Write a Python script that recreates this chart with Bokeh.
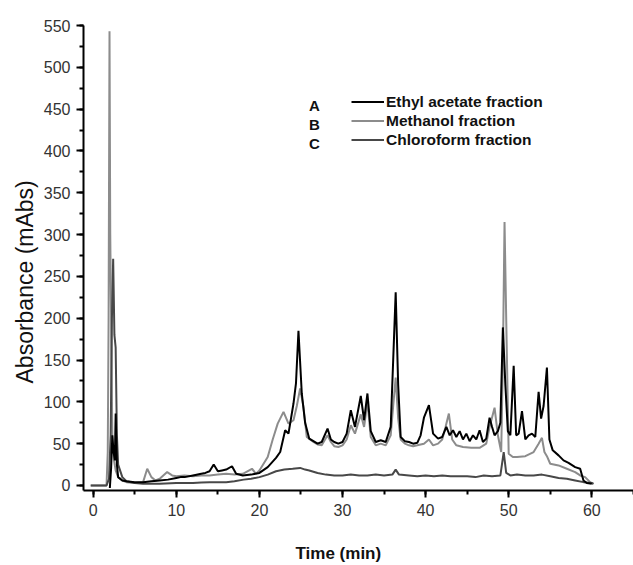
from bokeh.plotting import figure
from bokeh.layouts import column
from bokeh.models import Range1d, Label, Legend, LegendItem, FixedTicker, Title
from bokeh.embed import file_html
from bokeh.resources import INLINE

# ---------------- data ----------------
series_names = ["Ethyl acetate fraction", "Methanol fraction", "Chloroform fraction"]
series_letters = ["A", "B", "C"]
series_colors = ["#000000", "#8c8c8c", "#484848"]

time_ethyl = [2.0, 2.15, 2.3, 2.45, 2.6, 2.7, 2.85, 3.0, 3.5, 4, 5, 6, 7, 8, 9, 10, 10.5, 11, 12, 13,
              13.5, 14, 14.5, 15, 15.5, 16, 16.7, 17.2, 18, 19, 20, 21, 22, 22.5, 23.1, 23.5, 24.1, 24.4,
              24.7, 25.1, 25.5, 26, 26.5, 27, 27.5, 28.2, 28.6, 29, 29.5, 30, 30.5, 31, 31.5, 32.2, 32.6,
              33.0, 33.4, 34, 34.6, 35.2, 35.8, 36.1, 36.4, 36.7, 37.0, 37.5, 38, 38.5, 39, 39.4, 39.8,
              40.4, 40.9, 41.5, 42, 42.5, 42.9, 43.3, 43.7, 44.1, 44.5, 44.9, 45.3, 45.7, 46.1, 46.5,
              46.9, 47.3, 47.7, 48.0, 48.3, 48.7, 49.0, 49.3, 49.6, 49.9, 50.2, 50.6, 50.9, 51.2, 51.6,
              52.0, 52.4, 52.8, 53.2, 53.6, 53.9, 54.2, 54.6, 54.9, 55.3, 56, 56.6, 57.2, 58, 58.6, 59.0,
              59.4, 60]
abs_ethyl = [-3, 20, 60, 40, 30, 86, 25, 10, 6, 5, 4, 4, 5, 6, 7, 9, 10, 10, 12, 14,
             15, 17, 25, 17, 18, 19, 23, 14, 12, 13, 15, 22, 33, 40, 66, 62, 98, 122,
             185, 110, 75, 56, 53, 50, 52, 68, 55, 52, 50, 52, 62, 90, 70, 107, 78,
             110, 65, 52, 54, 52, 70, 150, 231, 120, 58, 53, 52, 50, 51, 60, 81,
             96, 62, 56, 58, 70, 60, 66, 58, 65, 55, 62, 53, 60, 55, 66,
             52, 56, 81, 70, 60, 65, 75, 189, 120, 65, 60, 143, 60, 62, 89,
             55, 60, 62, 58, 112, 80, 95, 141, 55, 42, 36, 30, 27, 22, 20, 6,
             3, 2]

time_methanol = [-0.3, 1.6, 1.75, 1.85, 1.96, 2.05, 2.15, 2.3, 2.5, 2.7, 3.0, 3.5, 4, 5, 6, 6.5, 7.0,
                 7.5, 8, 8.9, 9.5, 10, 11, 12, 13, 14, 15, 16, 17, 18, 19.1, 19.6, 20, 21, 21.6, 22.2,
                 22.9, 23.5, 24.1, 24.5, 24.9, 25.3, 25.7, 26.5, 27, 27.5, 28.2, 28.6, 29, 29.5, 30,
                 30.5, 31, 31.5, 32.2, 32.6, 33.0, 33.4, 34, 34.6, 35.2, 35.8, 36.1, 36.4, 36.7, 37.0,
                 37.5, 38, 38.5, 39, 39.8, 40.4, 40.9, 41.5, 42, 42.4, 42.8, 43.2, 43.7, 44.5, 45.5,
                 46.5, 47.3, 47.7, 48.3, 48.7, 49.1, 49.3, 49.5, 49.7, 50.0, 50.5, 51, 52, 53, 53.6,
                 54.0, 54.3, 54.6, 55.0, 56, 57, 58, 58.6, 59.2, 59.8, 60.2]
abs_methanol = [0, 0, 40, 200, 543, 300, 200, 60, 30, 18, 10, 6, 4, 3, 4, 20, 10,
                6, 8, 16, 12, 11, 12, 11, 12, 12, 13, 14, 13, 14, 20, 14, 18, 34, 55, 74,
                88, 74, 78, 95, 116, 94, 58, 52, 49, 48, 60, 52, 47, 46, 48,
                55, 72, 62, 85, 70, 100, 58, 48, 50, 48, 60, 95, 129, 80, 55,
                50, 48, 47, 48, 50, 55, 48, 50, 55, 70, 86, 55, 48, 46, 45,
                45, 50, 70, 93, 60, 40, 150, 315, 200, 38, 34, 34, 35, 40, 50,
                57, 40, 35, 26, 24, 20, 16, 12, 10, 4, 2]

time_chloro = [-0.3, 1.6, 1.9, 2.1, 2.25, 2.4, 2.55, 2.7, 2.85, 3.0, 3.5, 4, 5, 6, 8, 10, 12, 13, 14,
               16, 17, 18.1, 19, 20, 21, 22, 23, 24, 24.9, 25.5, 26, 27, 28, 29, 30, 31, 32, 33, 34,
               35, 36, 36.4, 36.8, 38, 39, 40, 41, 42, 43, 44, 45, 46, 47, 48, 49.0, 49.4, 49.7,
               50.2, 51, 52, 53, 54, 55, 56, 57, 58, 59, 60, 60.2]
abs_chloro = [0, 0, 8, 60, 200, 271, 180, 165, 60, 25, 10, 5, 3, 2, 2, 3, 3, 3.5, 4,
              4, 5, 7, 8, 10, 13, 17, 19, 20, 21, 19, 18, 15, 13, 12, 12, 13, 12, 12, 13,
              12, 13, 19, 13, 12, 11, 12, 11, 12, 11, 11, 11, 10, 12, 11, 12, 40, 15,
              12, 13, 12, 12, 13, 11, 9, 8, 6, 4, 3, 2]

x_major = [0, 10, 20, 30, 40, 50, 60]
x_minor = [0, 5, 10, 15, 20, 25, 30, 35, 40, 45, 50, 55, 60, 65]
y_major = [0, 50, 100, 150, 200, 250, 300, 350, 400, 450, 500, 550]
y_minor = list(range(0, 551, 25))

x_title = "Time (min)"
y_title = "Absorbance (mAbs)"
x_title_at = 29.5   # centre of the x title, in minutes

# ---------------- main figure ----------------
FONT = "Liberation Sans"

p = figure(width=633, height=540, output_backend="svg", toolbar_location=None,
           x_range=Range1d(-1.17, 65.02), y_range=Range1d(-6, 550),
           min_border_left=83, min_border_right=0, min_border_top=25, min_border_bottom=50)
p.outline_line_color = None
p.grid.visible = False
p.background_fill_color = "white"
p.border_fill_color = "white"

for ax in (p.xaxis[0], p.yaxis[0]):
    ax.axis_line_width = 2
    ax.axis_line_color = "black"
    ax.major_tick_line_width = 2
    ax.minor_tick_line_width = 2
    ax.major_tick_in = 0
    ax.major_tick_out = 7
    ax.minor_tick_in = 0
    ax.minor_tick_out = 4
    ax.major_label_text_font = FONT
    ax.major_label_text_font_size = "16px"
    ax.major_label_text_color = "#333333"
    ax.major_label_standoff = 6

p.xaxis.ticker = FixedTicker(ticks=x_major, minor_ticks=x_minor)
p.yaxis.ticker = FixedTicker(ticks=y_major, minor_ticks=y_minor)

# series
ys = [abs_ethyl, abs_methanol, abs_chloro]
xs = [time_ethyl, time_methanol, time_chloro]
renderers = {}
for idx in (1, 2, 0):
    renderers[idx] = p.line(xs[idx], ys[idx], line_color=series_colors[idx], line_width=2)

legend = Legend(items=[LegendItem(label=series_names[i], renderers=[renderers[i]]) for i in range(3)],
                location=(268, 341), orientation="vertical",
                background_fill_alpha=0, border_line_color=None,
                padding=0, margin=0, spacing=0,
                glyph_width=33, glyph_height=19, label_height=19, label_standoff=2,
                label_text_font=FONT, label_text_font_style="bold",
                label_text_font_size="15.5px", label_text_color="#111111")
p.add_layout(legend, "center")

letter_y = [385, 366, 347]
for letter, ly in zip(series_letters, letter_y):
    p.add_layout(Label(x=231, y=ly, x_units="screen", y_units="screen", text=letter,
                       text_font=FONT, text_font_style="bold", text_font_size="15px",
                       text_align="center", text_baseline="middle", text_color="#111111"))

p.add_layout(Title(text=y_title, align="left", offset=107, standoff=6,
                   text_font=FONT, text_font_style="normal", text_font_size="23px",
                   text_color="#111111"), "left")

# ---------------- strip holding the x title ----------------
strip = figure(width=633, height=25, output_backend="svg", toolbar_location=None,
               x_range=p.x_range, y_range=Range1d(0, 1),
               x_axis_location=None, y_axis_location=None,
               min_border_left=83, min_border_right=0, min_border_top=0, min_border_bottom=0)
strip.outline_line_color = None
strip.grid.visible = False
strip.add_layout(Label(x=x_title_at, y=12, x_units="data", y_units="screen", text=x_title,
                       text_font=FONT, text_font_style="bold", text_font_size="17px",
                       text_align="center", text_baseline="middle", text_color="#111111"))

layout = column(p, strip, spacing=0)
open("out.html", "w").write(file_html(layout, INLINE))
